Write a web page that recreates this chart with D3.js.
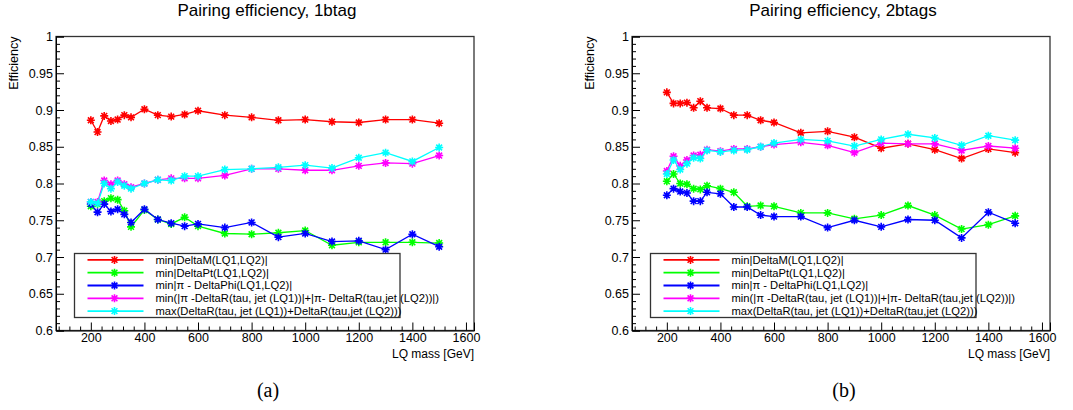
<!DOCTYPE html>
<html><head><meta charset="utf-8">
<script src="https://cdn.jsdelivr.net/npm/d3@7/dist/d3.min.js"></script>
<style>
html,body{margin:0;padding:0;background:#fff;}
svg{display:block;font-family:"Liberation Sans",Arial,Helvetica,sans-serif;}
</style></head>
<body>
<svg id="chart" width="1073" height="410"></svg>
<script>
// ---------- data ----------
const masses = [200,225,250,275,300,325,350,400,450,500,550,600,700,800,900,1000,1100,1200,1300,1400,1500];

const seriesNames = [
  "min|DeltaM(LQ1,LQ2)|",
  "min|DeltaPt(LQ1,LQ2)|",
  "min|\u03c0 - DeltaPhi(LQ1,LQ2)|",
  "min(|\u03c0 -DeltaR(tau, jet (LQ1))|+|\u03c0- DeltaR(tau,jet (LQ2))|)",
  "max(DeltaR(tau, jet (LQ1))+DeltaR(tau,jet (LQ2)))"
];
const seriesColors = ["#ff0000","#00ff00","#0000ff","#ff00ff","#00ffff"];

// 1 b-tag
const deltaM_1b   = [0.886,0.870,0.892,0.885,0.887,0.893,0.890,0.901,0.893,0.891,0.894,0.899,0.893,0.890,0.886,0.887,0.884,0.883,0.887,0.887,0.882];
const deltaPt_1b  = [0.769,0.772,0.776,0.780,0.778,0.763,0.741,0.764,0.751,0.745,0.754,0.742,0.732,0.731,0.733,0.736,0.716,0.720,0.720,0.720,0.719];
const deltaPhi_1b = [0.772,0.761,0.772,0.762,0.765,0.758,0.747,0.765,0.751,0.746,0.742,0.745,0.740,0.747,0.727,0.732,0.721,0.722,0.710,0.731,0.714];
const minDR_1b    = [0.775,0.775,0.804,0.799,0.804,0.799,0.795,0.800,0.805,0.807,0.807,0.807,0.811,0.820,0.820,0.818,0.818,0.824,0.828,0.827,0.838];
const maxDR_1b    = [0.775,0.773,0.800,0.793,0.802,0.797,0.793,0.800,0.805,0.804,0.810,0.810,0.819,0.820,0.822,0.825,0.821,0.835,0.842,0.830,0.849];

// 2 b-tags
const deltaM_2b   = [0.924,0.909,0.909,0.910,0.903,0.912,0.903,0.902,0.893,0.893,0.886,0.883,0.869,0.871,0.863,0.848,0.854,0.846,0.834,0.847,0.842];
const deltaPt_2b  = [0.803,0.813,0.800,0.799,0.793,0.792,0.797,0.793,0.788,0.769,0.770,0.769,0.760,0.760,0.752,0.757,0.770,0.757,0.738,0.744,0.756];
const deltaPhi_2b = [0.784,0.793,0.789,0.787,0.776,0.776,0.788,0.786,0.768,0.768,0.757,0.755,0.755,0.740,0.750,0.741,0.751,0.750,0.726,0.761,0.746];
const minDR_2b    = [0.817,0.837,0.824,0.832,0.838,0.839,0.846,0.844,0.847,0.847,0.850,0.853,0.856,0.852,0.842,0.855,0.854,0.854,0.845,0.851,0.848];
const maxDR_2b    = [0.813,0.832,0.819,0.827,0.835,0.834,0.845,0.843,0.845,0.846,0.850,0.855,0.860,0.858,0.851,0.860,0.867,0.862,0.852,0.865,0.859];

const xTicks = [200,400,600,800,1000,1200,1400,1600];
const yTicks = [0.6,0.65,0.7,0.75,0.8,0.85,0.9,0.95,1];
const xDomain = [70,1630];
const yDomain = [0.6,1];

const panels = [
  {title:"Pairing efficiency, 1btag", caption:"(a)", series:[deltaM_1b,deltaPt_1b,deltaPhi_1b,minDR_1b,maxDR_1b]},
  {title:"Pairing efficiency, 2btags", caption:"(b)", series:[deltaM_2b,deltaPt_2b,deltaPhi_2b,minDR_2b,maxDR_2b]}
];

// ---------- drawing ----------
const svg = d3.select("#chart");
const panelOffsets = [0, 576];
const F = {left:56, right:474, top:36.5, bottom:330.5};

const star = "M-4,0H4M0,-4V4M-2.9,-2.9L2.9,2.9M-2.9,2.9L2.9,-2.9";

panels.forEach((p, pi) => {
  const g = svg.append("g").attr("transform", `translate(${panelOffsets[pi]},0)`);
  const x = d3.scaleLinear().domain(xDomain).range([F.left, F.right]);
  const y = d3.scaleLinear().domain(yDomain).range([F.bottom, F.top]);
  const cx = (F.left+F.right)/2;

  // frame
  g.append("rect").attr("x",F.left).attr("y",F.top)
    .attr("width",F.right-F.left).attr("height",F.bottom-F.top)
    .attr("fill","none").attr("stroke","#333").attr("stroke-width",1.3);

  // x axis ticks (inside)
  const xMinor = d3.range(80, 1631, 40).filter(v => v % 200 !== 0);
  const xAx = d3.axisBottom(x).tickValues(xTicks).tickSize(-8).tickPadding(3).tickFormat(d3.format("d"));
  const gx = g.append("g").attr("transform",`translate(0,${F.bottom})`).call(xAx);
  gx.select(".domain").attr("stroke","#000");
  gx.selectAll(".tick line").attr("stroke","#000");
  gx.selectAll("text").attr("font-size",12.5).attr("fill","#000");
  g.append("g").attr("transform",`translate(0,${F.bottom})`)
    .call(d3.axisBottom(x).tickValues(xMinor).tickSize(-4).tickFormat(""))
    .call(s => s.select(".domain").remove())
    .selectAll(".tick line").attr("stroke","#000");

  // y axis ticks (inside)
  const yMinor = d3.range(0, 41).map(i => 0.6 + i*0.01).filter((v,i) => i % 5 !== 0);
  const yAx = d3.axisLeft(y).tickValues(yTicks).tickSize(-8).tickPadding(3)
    .tickFormat(d => String(+d.toFixed(2)));
  const gy = g.append("g").attr("transform",`translate(${F.left},0)`).call(yAx);
  gy.select(".domain").attr("stroke","#000");
  gy.selectAll(".tick line").attr("stroke","#000");
  gy.selectAll("text").attr("font-size",12.5).attr("fill","#000");
  g.append("g").attr("transform",`translate(${F.left},0)`)
    .call(d3.axisLeft(y).tickValues(yMinor).tickSize(-4).tickFormat(""))
    .call(s => s.select(".domain").remove())
    .selectAll(".tick line").attr("stroke","#000");

  // titles
  g.append("text").attr("x",cx+2).attr("y",15.5)
    .attr("text-anchor","middle").attr("font-size",17).text(p.title);
  g.append("text").attr("x",F.right).attr("y",357.5)
    .attr("text-anchor","end").attr("font-size",12).text("LQ mass [GeV]");
  g.append("text").attr("transform",`translate(${F.left-38},${F.top}) rotate(-90)`)
    .attr("text-anchor","end").attr("font-size",12.5).text("Efficiency");
  g.append("text").attr("x",cx+3).attr("y",397)
    .attr("text-anchor","middle").attr("font-size",20)
    .attr("font-family","'Liberation Serif','Times New Roman',serif").text(p.caption);

  // series
  const line = d3.line().x((d,i) => x(masses[i])).y(d => y(d));
  p.series.forEach((vals, si) => {
    const col = seriesColors[si];
    g.append("path").datum(vals).attr("d", line)
      .attr("fill","none").attr("stroke",col).attr("stroke-width",1.3);
    g.selectAll(null).data(vals).enter().append("path")
      .attr("transform",(d,i) => `translate(${x(masses[i])},${y(d)})`)
      .attr("d", star).attr("stroke",col).attr("stroke-width",1.6).attr("fill","none");
  });

  // legend
  const L = {x0:F.left+18.5, x1:F.left+344, y0:253.5, y1:317.5};
  g.append("rect").attr("x",L.x0).attr("y",L.y0).attr("width",L.x1-L.x0).attr("height",L.y1-L.y0)
    .attr("fill","#fff").attr("stroke","#333").attr("stroke-width",1.3);
  const rowH = (L.y1-L.y0)/5;
  seriesNames.forEach((name, si) => {
    const cy = L.y0 + rowH*(si+0.5);
    const col = seriesColors[si];
    g.append("line").attr("x1",L.x0+13).attr("x2",L.x0+69).attr("y1",cy).attr("y2",cy)
      .attr("stroke",col).attr("stroke-width",1.8);
    g.append("path").attr("transform",`translate(${L.x0+40},${cy})`).attr("d",star)
      .attr("stroke",col).attr("stroke-width",1.6).attr("fill","none");
    g.append("text").attr("x",L.x0+81).attr("y",cy).attr("dy","0.35em")
      .attr("font-size",11.2).attr("fill","#000").text(name);
  });
});
</script>
</body></html>
